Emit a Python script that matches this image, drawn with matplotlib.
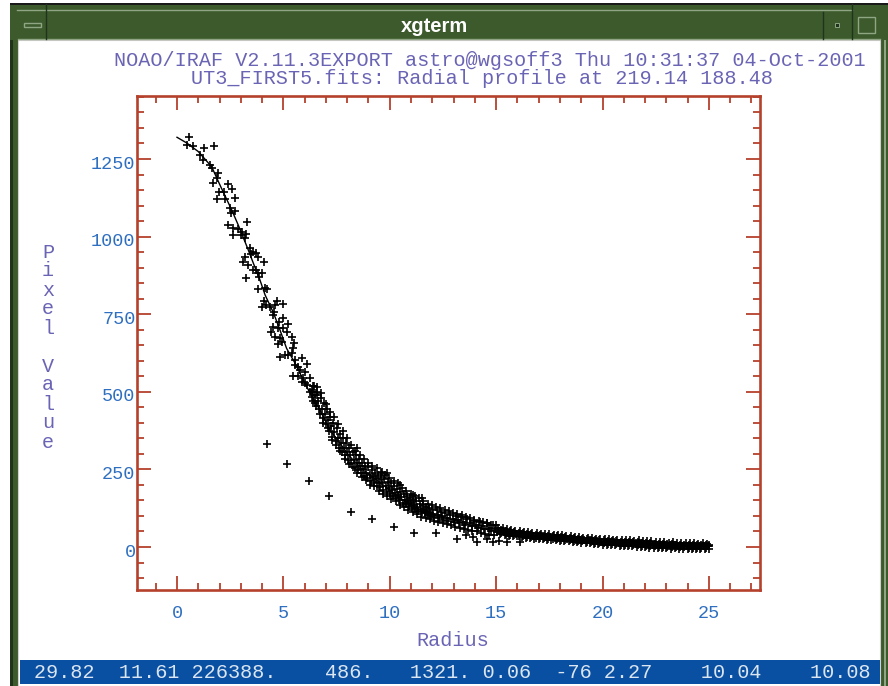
import matplotlib
matplotlib.use('Agg')
import matplotlib.pyplot as plt
import matplotlib.patches as patches
import matplotlib.transforms as mtransforms
import numpy as np

plt.rcParams['font.family'] = ['Liberation Mono', 'DejaVu Sans Mono']

WIDTH, HEIGHT = 888, 686

title_top = 'NOAO/IRAF V2.11.3EXPORT astro@wgsoff3 Thu 10:31:37 04-Oct-2001'
title_sub = 'UT3_FIRST5.fits: Radial profile at 219.14 188.48'
status_text = '29.82  11.61 226388.    486.   1321. 0.06  -76 2.27    10.04    10.08'
x_ticks = [0, 5, 10, 15, 20, 25]
y_ticks = [0, 250, 500, 750, 1000, 1250]

fit_points = [
    (0.0, 1320), (0.45, 1302), (1.0, 1274), (1.63, 1225), (2.02, 1166), (2.57, 1086),
    (2.88, 1037), (3.35, 957), (3.59, 914), (3.9, 860), (4.14, 812), (4.53, 755),
    (4.84, 699), (5.15, 640), (5.55, 592), (5.86, 549), (6.25, 496), (6.72, 441),
    (7.19, 377), (7.66, 334), (8.13, 291), (8.75, 248), (9.38, 216), (10.0, 184),
    (10.63, 151), (11.42, 119), (12.2, 100), (13.0, 87), (13.77, 71), (14.55, 57),
    (16.1, 39), (17.7, 28), (19.8, 17), (21.4, 12), (22.9, 6), (25.0, 3),
]

inner_points = [
    (.58, 1320), (.49, 1295), (.74, 1293), (1.27, 1284), (1.75, 1292), (1.08, 1263),
    (1.24, 1247), (1.55, 1231), (1.63, 1220), (1.94, 1204), (1.86, 1188), (1.71, 1172),
    (2.41, 1169), (2.57, 1152), (1.99, 1145), (2.21, 1145), (1.90, 1121), (2.26, 1120),
    (2.73, 1123), (2.49, 1091), (2.73, 1082), (2.52, 1075), (2.41, 1039), (3.31, 1048),
    (2.62, 1027), (2.88, 1023), (3.04, 1016), (2.65, 1005), (2.99, 1005), (3.24, 1008),
    (3.20, 994), (3.43, 962), (3.59, 951), (3.71, 948), (3.46, 944), (3.82, 935),
    (3.20, 933), (3.09, 918), (4.09, 919), (3.35, 908), (3.56, 894), (3.71, 892),
    (3.82, 882), (3.98, 882), (3.87, 871), (3.24, 866), (3.79, 831), (4.14, 833),
    (4.21, 830), (4.09, 794), (4.68, 794), (4.97, 783), (3.98, 774), (4.18, 780),
    (4.61, 780), (4.37, 774), (4.56, 758), (4.53, 747), (4.97, 737), (4.81, 726),
    (5.23, 720), (4.53, 710), (4.76, 707), (4.97, 705), (5.15, 694), (4.42, 694),
    (4.61, 678), (4.84, 672), (5.39, 678), (4.73, 654), (4.92, 661), (5.50, 658),
    (5.47, 640), (4.84, 611), (5.08, 618), (5.23, 618), (5.39, 624), (5.55, 602),
    (5.86, 608), (6.09, 588), (5.70, 581), (5.55, 586), (5.78, 570), (5.47, 552),
    (5.70, 551), (6.02, 565), (5.94, 543), (6.25, 543), (6.02, 527), (6.12, 522),
    (5.86, 533), (6.25, 500), (6.41, 500), (6.56, 490), (6.33, 484),
]

band_points = [
    (6.35, 505), (6.4, 470), (6.45, 520), (6.5, 490), (6.55, 455), (6.6, 500), (6.65, 470),
    (6.7, 430), (6.75, 480), (6.8, 445), (6.85, 415), (6.9, 465), (6.95, 430), (7.0, 395),
    (7.05, 445), (7.1, 410), (7.15, 375), (7.2, 420), (7.25, 390), (7.3, 355), (7.35, 400),
    (7.4, 370), (7.45, 340), (7.5, 385), (7.55, 350), (7.6, 320), (7.65, 365), (7.7, 335),
    (7.75, 305), (7.8, 350), (7.85, 320), (7.9, 295), (7.95, 335), (8.0, 305), (8.05, 280),
    (8.1, 320), (8.15, 295), (8.2, 270), (8.25, 305), (8.3, 280), (8.35, 255), (8.4, 295),
    (8.44, 318), (8.45, 270), (8.5, 248), (8.55, 285), (8.6, 260), (8.65, 238), (8.7, 272),
    (8.75, 250), (8.8, 230), (8.85, 262), (8.9, 240), (8.95, 222), (9.0, 258), (9.05, 232),
    (9.1, 212), (9.15, 248), (9.2, 225), (9.25, 205), (9.3, 240), (9.35, 218), (9.4, 198),
    (9.45, 232), (9.5, 210), (9.55, 192), (9.62, 243), (9.6, 225), (9.65, 205), (9.7, 185),
    (9.75, 218), (9.8, 198), (9.85, 240), (9.85, 178), (9.9, 208), (9.95, 190), (10.0, 170),
    (10.05, 205), (10.1, 183), (10.15, 163), (10.2, 195), (10.25, 175), (10.3, 158),
    (10.35, 188), (10.4, 168), (10.45, 150), (10.5, 200), (10.5, 178), (10.55, 160),
    (10.6, 143), (10.65, 170), (10.7, 153), (10.75, 137), (10.8, 165), (10.85, 147),
    (10.9, 132), (10.95, 158), (11.0, 141), (11.05, 127), (11.1, 167), (11.1, 150),
    (11.15, 135), (11.2, 122), (11.25, 148), (11.3, 130), (11.35, 116), (11.4, 140),
    (11.45, 124), (11.5, 157), (11.5, 112), (11.55, 135), (11.6, 120), (11.65, 108),
    (11.7, 130), (11.75, 115), (11.8, 104), (11.85, 125), (11.9, 111), (11.95, 100),
    (12.0, 122), (12.05, 107), (12.1, 96), (12.2, 118), (12.25, 103), (12.3, 92),
    (12.4, 113), (12.45, 99), (12.5, 88), (12.6, 108), (12.7, 95), (12.75, 84), (12.85, 104),
    (12.95, 90), (13.0, 80), (13.1, 100), (13.2, 86), (13.25, 76), (13.35, 96), (13.45, 82),
    (13.55, 72), (13.65, 90), (13.75, 77), (13.85, 67), (13.95, 85), (14.05, 72), (14.15, 62),
    (14.25, 80), (14.35, 67), (14.45, 58), (14.55, 76), (14.65, 62), (14.75, 53), (14.85, 72),
    (14.95, 57), (15.05, 48),
]

band_edge_points = [
    (6.38, 520), (6.48, 465), (6.58, 515), (6.68, 445), (6.78, 495), (6.88, 400), (6.98, 460),
    (7.08, 385), (7.18, 435), (7.28, 345), (7.38, 420), (7.48, 330), (7.58, 395), (7.68, 310),
    (7.78, 375), (7.88, 285), (7.98, 350), (8.08, 268), (8.18, 328), (8.28, 258), (8.38, 310),
    (8.48, 238), (8.58, 298), (8.68, 225), (8.78, 285), (8.88, 215), (8.98, 272), (9.08, 200),
    (9.18, 262), (9.28, 195), (9.38, 255), (9.48, 180), (9.58, 240), (9.68, 172), (9.78, 232),
    (9.88, 165), (9.98, 222), (10.08, 155), (10.18, 212), (10.28, 148), (10.38, 205),
    (10.48, 135), (10.58, 190), (10.68, 128), (10.78, 180), (10.88, 120), (10.98, 172),
    (11.08, 112), (11.18, 165), (11.28, 105), (11.38, 158), (11.48, 98), (11.58, 148),
    (11.68, 92), (11.78, 140), (11.88, 90), (11.98, 135), (12.08, 85), (12.18, 130),
    (12.28, 82), (12.38, 125), (12.48, 78), (12.58, 120), (12.68, 73), (12.78, 115),
    (12.88, 70), (12.98, 110), (13.08, 65), (13.18, 105), (13.28, 60), (13.38, 102),
    (13.48, 58), (13.58, 98), (13.68, 55), (13.78, 92), (13.88, 52), (13.98, 88), (14.08, 50),
    (14.18, 85), (14.28, 46), (14.38, 80), (14.48, 43), (14.58, 78), (14.68, 40), (14.78, 72),
    (14.88, 38), (14.98, 70),
]

tail_points = [
    (15.1, 62), (15.15, 50), (15.2, 41), (15.3, 60), (15.35, 48), (15.4, 39), (15.5, 57),
    (15.55, 46), (15.6, 37), (15.7, 55), (15.75, 44), (15.8, 36), (15.9, 53), (15.95, 43),
    (16.0, 34), (16.1, 50), (16.15, 41), (16.2, 31), (16.3, 49), (16.35, 39), (16.4, 30),
    (16.5, 47), (16.55, 38), (16.6, 28), (16.7, 46), (16.75, 36), (16.8, 27), (16.9, 44),
    (16.95, 35), (17.0, 26), (17.1, 43), (17.15, 34), (17.2, 25), (17.3, 42), (17.35, 33),
    (17.4, 24), (17.5, 41), (17.55, 32), (17.6, 23), (17.7, 39), (17.75, 30), (17.8, 21),
    (17.9, 39), (17.95, 29), (18.0, 20), (18.1, 38), (18.15, 28), (18.2, 19), (18.3, 36),
    (18.35, 27), (18.4, 18), (18.5, 35), (18.55, 26), (18.6, 17), (18.7, 33), (18.75, 24),
    (18.8, 15), (18.9, 31), (18.95, 23), (19.0, 14), (19.1, 30), (19.15, 22), (19.2, 13),
    (19.3, 29), (19.35, 21), (19.4, 12), (19.5, 28), (19.55, 20), (19.6, 11), (19.7, 27),
    (19.75, 18), (19.8, 9), (19.9, 26), (19.95, 17), (20.0, 8), (20.1, 26), (20.15, 17),
    (20.2, 7), (20.3, 25), (20.35, 16), (20.4, 6), (20.5, 24), (20.55, 15), (20.6, 5),
    (20.7, 23), (20.75, 14), (20.8, 4), (20.9, 22), (20.95, 13), (21.0, 4), (21.1, 21),
    (21.15, 12), (21.2, 3), (21.3, 22), (21.35, 12), (21.4, 2), (21.5, 20), (21.55, 11),
    (21.6, 1), (21.7, 21), (21.75, 10), (21.8, 0), (21.9, 19), (21.95, 9), (22.0, -1),
    (22.1, 18), (22.15, 9), (22.2, -2), (22.3, 20), (22.35, 8), (22.4, -2), (22.5, 16),
    (22.55, 7), (22.6, -3), (22.7, 15), (22.75, 6), (22.8, -4), (22.9, 15), (22.95, 6),
    (23.0, -4), (23.1, 14), (23.15, 5), (23.2, -5), (23.3, 17), (23.35, 5), (23.4, -4),
    (23.5, 13), (23.55, 4), (23.6, -5), (23.7, 13), (23.75, 4), (23.8, -5), (23.9, 12),
    (23.95, 4), (24.0, -5), (24.1, 14), (24.15, 3), (24.2, -6), (24.3, 12), (24.35, 3),
    (24.4, -6), (24.5, 11), (24.55, 3), (24.6, -6), (24.7, 12), (24.75, 3), (24.8, -6),
    (24.9, 9), (24.95, 2), (25.0, -7), (25.0, 8), (25.0, 2),
]

tail_fill_points = [
    (15.25, 55), (15.25, 44), (15.45, 53), (15.45, 42), (15.65, 51), (15.65, 40), (15.85, 48),
    (15.85, 38), (16.05, 46), (16.05, 36), (16.25, 44), (16.25, 34), (16.45, 43), (16.45, 33),
    (16.65, 41), (16.65, 32), (16.85, 40), (16.85, 30), (17.05, 39), (17.05, 29), (17.25, 37),
    (17.25, 28), (17.45, 36), (17.45, 27), (17.65, 35), (17.65, 25), (17.85, 34), (17.85, 25),
    (18.05, 33), (18.05, 24), (18.25, 31), (18.25, 23), (18.45, 30), (18.45, 22), (18.65, 29),
    (18.65, 20), (18.85, 27), (18.85, 19), (19.05, 26), (19.05, 18), (19.25, 25), (19.25, 17),
    (19.45, 24), (19.45, 15), (19.65, 23), (19.65, 14), (19.85, 21), (19.85, 13), (20.05, 21),
    (20.05, 12), (20.25, 20), (20.25, 11), (20.45, 19), (20.45, 10), (20.65, 18), (20.65, 9),
    (20.85, 17), (20.85, 8), (21.05, 16), (21.05, 8), (21.25, 16), (21.25, 7), (21.45, 15),
    (21.45, 6), (21.65, 15), (21.65, 5), (21.85, 14), (21.85, 4), (22.05, 13), (22.05, 4),
    (22.25, 13), (22.25, 3), (22.45, 11), (22.45, 2), (22.65, 10), (22.65, 1), (22.85, 10),
    (22.85, 1), (23.05, 9), (23.05, 0), (23.25, 10), (23.25, 0), (23.45, 8), (23.45, -1),
    (23.65, 8), (23.65, -1), (23.85, 8), (23.85, -1), (24.05, 8), (24.05, -2), (24.25, 7),
    (24.25, -2), (24.45, 6), (24.45, -2), (24.65, 6), (24.65, -2), (24.85, 5), (24.85, -3),
]

low_points = [
    (4.21, 331), (5.18, 267), (6.2, 214), (7.15, 164), (8.16, 113), (9.15, 89), (10.18, 64),
    (11.15, 46), (12.16, 46), (13.14, 25), (13.58, 39), (13.89, 33), (14.11, 17), (14.55, 25),
    (14.83, 17), (15.15, 20), (15.52, 17), (16.12, 17),
]

GREEN = '#3c5a2c'
DARK = '#20331c'
LIGHT = '#8fa583'
AXIS_RED = '#b5402c'
TICK_BLUE = '#2f6fc0'
TEXT_PURPLE = '#6a64b4'


def draw_window(bg):
    bg.add_patch(patches.Rectangle((10, 3), 878, 683, fc=GREEN, ec='none'))
    bg.add_patch(patches.Rectangle((10, 3), 878, 2, fc='#1a1a1a', ec='none'))
    bg.add_patch(patches.Rectangle((10, 40), 3, 646, fc=DARK, ec='none'))
    bg.add_patch(patches.Rectangle((884, 40), 2, 646, fc=LIGHT, ec='none'))
    bg.add_patch(patches.Rectangle((18, 40), 862, 646, fc='white', ec='#d0d0d0', lw=0.8))
    bg.plot([17, 852], [10, 10], color=LIGHT, lw=1)
    bg.plot([18, 880], [39, 39], color=LIGHT, lw=1)
    bg.plot([46, 46], [4, 39], color=DARK, lw=1)
    bg.plot([823, 823], [12, 39], color=DARK, lw=1)
    bg.plot([852, 852], [4, 39], color=DARK, lw=1)
    bg.add_patch(patches.Rectangle((24, 22.5), 17, 4, fc='none', ec=LIGHT, lw=1))
    bg.add_patch(patches.Rectangle((835, 23), 4, 4, fc=DARK, ec=LIGHT, lw=0.7))
    bg.add_patch(patches.Rectangle((858, 17), 17, 16, fc='none', ec=LIGHT, lw=1))
    bg.add_patch(patches.Rectangle((20, 660), 860, 24, fc='#0a50a2', ec='none'))
    bg.text(434, 26, 'xgterm', color='white', ha='center', va='center',
            family='Liberation Sans', weight='bold', fontsize=14.5)
    bg.text(34, 672, status_text, color='#dbe6f2', ha='left', va='center', fontsize=14.5)
    bg.text(490, 61, title_top, color=TEXT_PURPLE, ha='center', va='center', fontsize=14.5)
    bg.text(482, 79, title_sub, color=TEXT_PURPLE, ha='center', va='center', fontsize=14.5)
    bg.text(453, 640, 'Radius', color=TEXT_PURPLE, ha='center', va='center', fontsize=14.5)
    bg.text(48, 347, 'P\ni\nx\ne\nl\n\nV\na\nl\nu\ne', color=TEXT_PURPLE, ha='center',
            va='center', fontsize=14.5, linespacing=1.0)


fig = plt.figure(figsize=(WIDTH / 100, HEIGHT / 100), dpi=100)

bg = fig.add_axes([0, 0, 1, 1], zorder=0)
bg.set_xlim(0, WIDTH)
bg.set_ylim(HEIGHT, 0)
bg.axis('off')
draw_window(bg)

# plot frame is 137..760 by 96..590 in image pixels
ax = fig.add_axes([137 / WIDTH, 1 - 590 / HEIGHT, 623 / WIDTH, 494 / HEIGHT], zorder=1)
ax.patch.set_alpha(0)
ax.set_xlim(-1.88, 27.4)
ax.set_ylim(-138.5, 1453)

fit_r, fit_v = np.array(fit_points).T
ax.plot(fit_r, fit_v, color='black', lw=1.0)
for pts in (inner_points, band_points, band_edge_points, tail_points, tail_fill_points, low_points):
    r, v = np.array(pts).T
    ax.plot(r, v, '+', color='black', ms=5.5, mew=1.2)

ax.set_xticks(x_ticks)
ax.set_yticks(y_ticks)
ax.set_xticks(np.arange(-1, 28), minor=True)
ax.set_yticks(np.arange(-100, 1451, 50), minor=True)
ax.tick_params(which='major', direction='in', length=10, width=1.3, color=AXIS_RED,
               top=True, right=True, labelcolor=TICK_BLUE, labelsize=13.3)
ax.tick_params(which='minor', direction='in', length=5, width=1.3, color=AXIS_RED,
               top=True, right=True)
ax.tick_params(axis='x', pad=11)
ax.tick_params(axis='y', pad=1)
for side in ax.spines.values():
    side.set_color(AXIS_RED)
    side.set_linewidth(1.9)

shift = mtransforms.ScaledTranslation(0, -3 / 100, fig.dpi_scale_trans)
for label in ax.get_yticklabels():
    label.set_transform(label.get_transform() + shift)

fig.savefig('out.png', dpi=100)
